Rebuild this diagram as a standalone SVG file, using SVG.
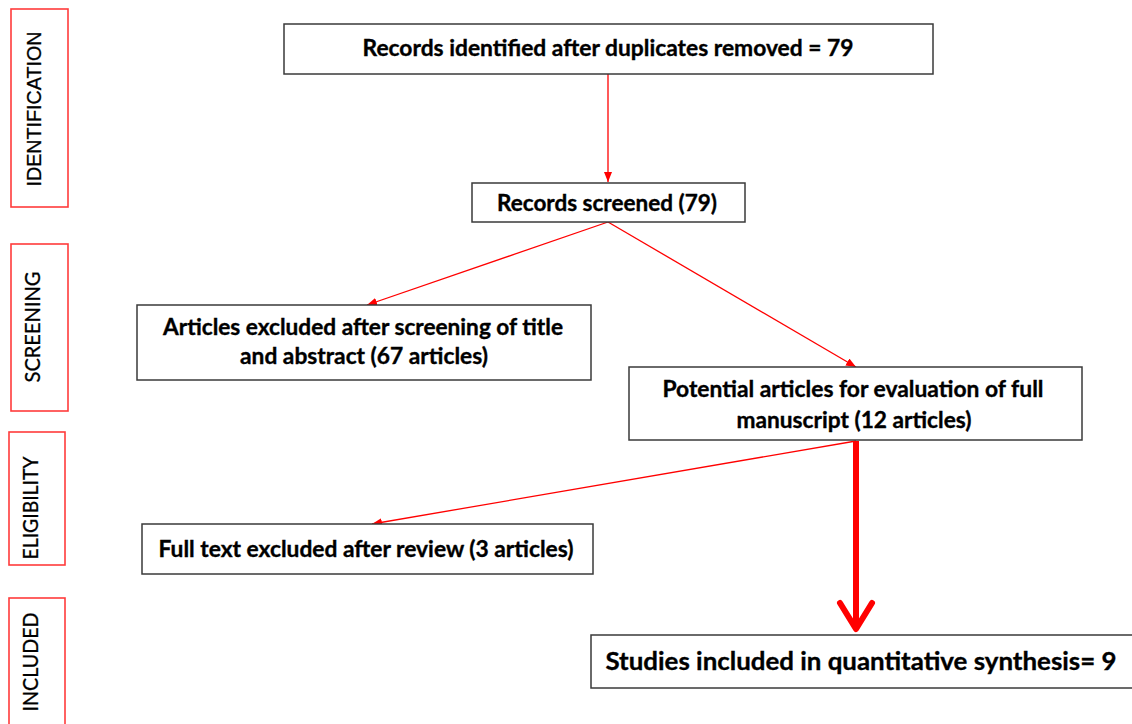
<svg xmlns="http://www.w3.org/2000/svg" width="1132" height="724" viewBox="0 0 1132 724">
<style>
.box{fill:#fff;stroke:#3a3a3a;stroke-width:1.5}
.side{fill:#fff;stroke:#ff3b3b;stroke-width:1.6}
.t{font-family:Lato,"Open Sans","Liberation Sans",sans-serif;font-weight:700;font-size:22px;fill:#000;text-anchor:middle;stroke:#000;stroke-width:0.35}
.s{font-family:Lato,"Open Sans","Liberation Sans",sans-serif;font-size:21px;fill:#000;text-anchor:middle;stroke:#000;stroke-width:0.3}
.thin{stroke:#ff0000;stroke-width:1.3;fill:none}
</style>
<defs>
<marker id="ah" markerUnits="userSpaceOnUse" markerWidth="12" markerHeight="10" refX="10" refY="4" orient="auto">
<path d="M0,0 L10,4 L0,8 Z" fill="#ff0000"/>
</marker>
</defs>
<g id="phase-identification">
<rect class="side" x="11" y="9" width="57" height="198"/>
<text class="s" style="font-family:'Liberation Sans',Arial,sans-serif" transform="translate(41,109) rotate(-90)" textLength="155" lengthAdjust="spacingAndGlyphs">IDENTIFICATION</text>
</g>
<g id="phase-screening">
<rect class="side" x="11" y="244" width="57" height="167"/>
<text class="s" transform="translate(40,327) rotate(-90)" textLength="111" lengthAdjust="spacingAndGlyphs">SCREENING</text>
</g>
<g id="phase-eligibility">
<rect class="side" x="9" y="432" width="56" height="133"/>
<text class="s" transform="translate(38,508) rotate(-90)" textLength="103" lengthAdjust="spacingAndGlyphs">ELIGIBILITY</text>
</g>
<g id="phase-included">
<rect class="side" x="9" y="598" width="56" height="140"/>
<text class="s" transform="translate(38,662) rotate(-90)" textLength="99" lengthAdjust="spacingAndGlyphs">INCLUDED</text>
</g>
<g id="connectors">
<line class="thin" x1="608" y1="74" x2="608" y2="182" marker-end="url(#ah)"/>
<line class="thin" x1="608" y1="222" x2="367" y2="305" marker-end="url(#ah)"/>
<line class="thin" x1="608" y1="222" x2="856" y2="367" marker-end="url(#ah)"/>
<line class="thin" x1="856" y1="441" x2="372" y2="524" marker-end="url(#ah)"/>
<line x1="856" y1="441" x2="856" y2="627" stroke="#ff0000" stroke-width="6"/>
<polyline points="840,603 856,629 872,603" fill="none" stroke="#ff0000" stroke-width="6" stroke-linecap="round" stroke-linejoin="round"/>
</g>
<g id="node-identified">
<rect class="box" x="284" y="24" width="649" height="50"/>
<text class="t" x="608" y="56" textLength="491" lengthAdjust="spacingAndGlyphs">Records identified after duplicates removed = 79</text>
</g>
<g id="node-screened">
<rect class="box" x="472" y="183" width="273" height="39"/>
<text class="t" x="607" y="211" textLength="220" lengthAdjust="spacingAndGlyphs">Records screened (79)</text>
</g>
<g id="node-excluded-title">
<rect class="box" x="137" y="305" width="454" height="75"/>
<text class="t" x="363" y="335" textLength="400" lengthAdjust="spacingAndGlyphs">Articles excluded after screening of title</text>
<text class="t" x="364" y="364" textLength="248" lengthAdjust="spacingAndGlyphs">and abstract (67 articles)</text>
</g>
<g id="node-potential">
<rect class="box" x="629" y="367" width="453" height="73"/>
<text class="t" x="853" y="397" textLength="381" lengthAdjust="spacingAndGlyphs">Potential articles for evaluation of full</text>
<text class="t" x="854" y="428" textLength="235" lengthAdjust="spacingAndGlyphs">manuscript (12 articles)</text>
</g>
<g id="node-fulltext-excluded">
<rect class="box" x="142" y="524" width="451" height="50"/>
<text class="t" x="366" y="557" textLength="415" lengthAdjust="spacingAndGlyphs">Full text excluded after review (3 articles)</text>
</g>
<g id="node-included">
<rect class="box" x="591" y="635" width="560" height="53"/>
<text class="t" style="font-size:25px" x="861" y="670" textLength="511" lengthAdjust="spacingAndGlyphs">Studies included in quantitative synthesis= 9</text>
</g>
</svg>
